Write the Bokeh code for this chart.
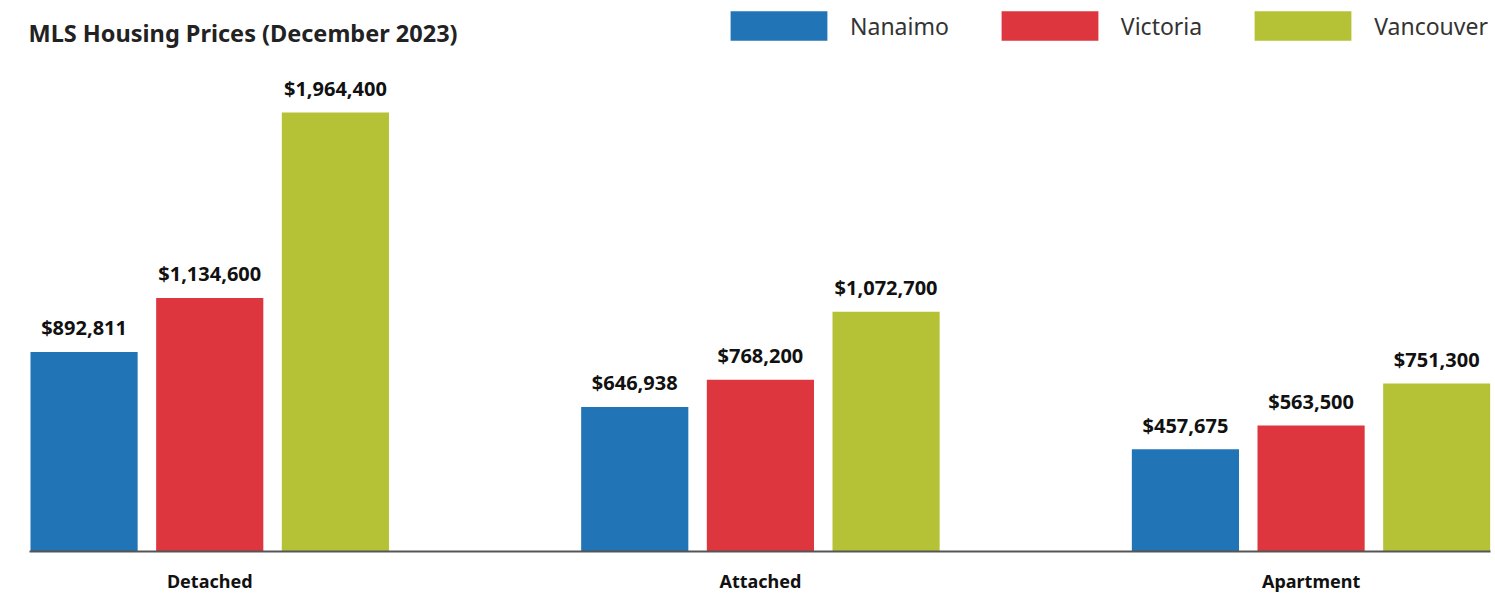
from bokeh.plotting import figure
from bokeh.models import Range1d, FixedTicker, Legend, LegendItem, Label, ColumnDataSource
from bokeh.embed import file_html
from bokeh.resources import INLINE
from bokeh.core.properties import value

# ---- data ----
categories = ["Detached", "Attached", "Apartment"]
cities = ["Nanaimo", "Victoria", "Vancouver"]
nanaimo = [892811, 646938, 457675]
victoria = [1134600, 768200, 563500]
vancouver = [1964400, 1072700, 751300]
title_text = "MLS Housing Prices (December 2023)"

# ---- styles ----
bar_colors = ["#2174b5", "#dd363f", "#b6c236"]
offsets = [-0.2282, 0.0, 0.2282]
bar_width = 0.1946
FONT = "Noto Sans"

p = figure(width=1495, height=595, output_backend="svg", toolbar_location=None,
           title=None,
           x_range=Range1d(-0.3273, 2.3258), y_range=Range1d(0, 2465000),
           min_border_left=29, min_border_right=5, min_border_top=0,
           min_border_bottom=44)
p.outline_line_color = None
p.xgrid.visible = False
p.ygrid.visible = False
p.yaxis.visible = False
p.background_fill_color = "white"
p.border_fill_color = "white"

series = [nanaimo, victoria, vancouver]
items = []
for name, vals, off, col in zip(cities, series, offsets, bar_colors):
    xs = [i + off for i in range(len(categories))]
    src = ColumnDataSource(dict(x=xs, top=vals,
                                lab=["${:,}".format(v) for v in vals]))
    r = p.vbar(x="x", top="top", width=bar_width, source=src,
               fill_color=col, line_color=None)
    items.append(LegendItem(label=name, renderers=[r]))
    p.text(x="x", y="top", text="lab", source=src, text_align="center",
           text_baseline="alphabetic", y_offset=-24,
           text_font=value(FONT), text_font_size="20px",
           text_font_style="bold", text_color="#111111")

legend = Legend(items=items, location=(689, 507), orientation="horizontal",
                glyph_width=121, glyph_height=37, label_standoff=11, spacing=40,
                padding=0, margin=0, border_line_color=None,
                background_fill_alpha=0, label_text_font=FONT,
                label_text_font_size="23px", label_text_color="#333333",
                label_height=30)
p.add_layout(legend)

title = Label(x=-1, y=519, x_units="screen", y_units="screen", text=title_text,
              text_font=FONT, text_font_size="23.5px", text_font_style="bold",
              text_color="#222222", text_baseline="alphabetic")
p.add_layout(title)

ax = p.xaxis[0]
ax.ticker = FixedTicker(ticks=list(range(len(categories))))
ax.major_label_overrides = {i: c for i, c in enumerate(categories)}
ax.major_tick_line_color = None
ax.minor_tick_line_color = None
ax.major_tick_out = 0
ax.major_tick_in = 0
ax.axis_line_color = "#555555"
ax.axis_line_width = 2
ax.major_label_standoff = 17
ax.major_label_text_font = FONT
ax.major_label_text_font_size = "18px"
ax.major_label_text_font_style = "bold"
ax.major_label_text_color = "#111111"

open("out.html", "w").write(file_html(p, INLINE))
